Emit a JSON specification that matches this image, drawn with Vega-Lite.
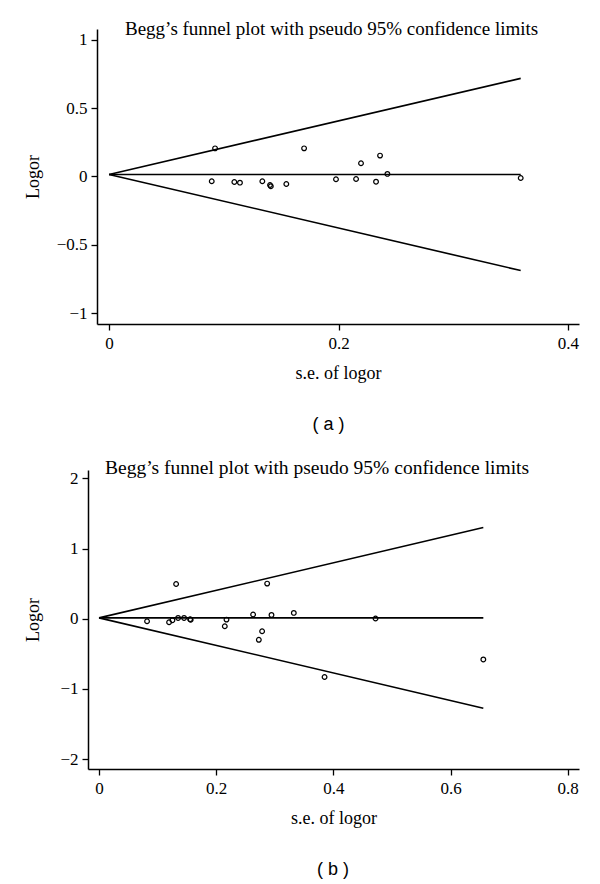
{
  "$schema": "https://vega.github.io/schema/vega-lite/v6.json",
  "padding": {"left": 24, "top": 20, "right": 0, "bottom": 0},
  "background": "white",
  "spacing": 23,
  "config": {
    "view": {"stroke": null},
    "axis": {
      "grid": false,
      "domainColor": "black",
      "domainWidth": 1.5,
      "tickColor": "black",
      "tickWidth": 1.3,
      "tickSize": 6,
      "labelColor": "black",
      "labelFont": "Liberation Serif",
      "labelFontSize": 17,
      "labelPadding": 4,
      "titleColor": "black",
      "titleFont": "Liberation Serif",
      "titleFontSize": 18,
      "titleFontWeight": "normal"
    }
  },
  "vconcat": [
    {
      "title": {"text": "( a )", "orient": "bottom", "anchor": "middle", "dx": 27, "font": "Liberation Sans", "fontSize": 18, "fontWeight": "normal", "color": "black", "offset": 34},
      "vconcat": [
        {
          "width": 482,
          "height": 295,
          "title": {"text": "Begg’s funnel plot with pseudo 95% confidence limits", "anchor": "start", "frame": "group", "dx": 28, "offset": -25, "baseline": "alphabetic", "font": "Liberation Serif", "fontSize": 19, "fontWeight": "normal", "color": "black"},
          "layer": [
            {
              "data": {"values": [
                {"line": "upper", "se": 0, "logor": 0.014},
                {"line": "upper", "se": 0.3588, "logor": 0.717},
                {"line": "lower", "se": 0, "logor": 0.014},
                {"line": "lower", "se": 0.3588, "logor": -0.689},
                {"line": "center", "se": 0, "logor": 0.014},
                {"line": "center", "se": 0.3588, "logor": 0.014}
              ]},
              "mark": {"type": "line", "color": "black", "strokeWidth": 1.6},
              "encoding": {
                "x": {"field": "se", "type": "quantitative", "scale": {"domain": [-0.0105, 0.4096], "nice": false, "zero": false},
                      "axis": {"values": [0, 0.2, 0.4], "format": "~g", "title": "s.e. of logor", "titlePadding": 13, "labelPadding": 5}},
                "y": {"field": "logor", "type": "quantitative", "scale": {"domain": [-1.08, 1.078], "nice": false, "zero": false},
                      "axis": {"values": [-1, -0.5, 0, 0.5, 1], "format": "~g", "title": "Logor", "minExtent": 55, "maxExtent": 55, "titlePadding": 0}},
                "detail": {"field": "line"}
              }
            },
            {
              "data": {"values": [
                {"se": 0.0924, "logor": 0.205},
                {"se": 0.170, "logor": 0.205},
                {"se": 0.2196, "logor": 0.096},
                {"se": 0.2362, "logor": 0.152},
                {"se": 0.2426, "logor": 0.018},
                {"se": 0.3588, "logor": -0.012},
                {"se": 0.0895, "logor": -0.036},
                {"se": 0.1092, "logor": -0.041},
                {"se": 0.1141, "logor": -0.046},
                {"se": 0.1336, "logor": -0.036},
                {"se": 0.1403, "logor": -0.063},
                {"se": 0.141, "logor": -0.072},
                {"se": 0.1545, "logor": -0.056},
                {"se": 0.1978, "logor": -0.021},
                {"se": 0.2153, "logor": -0.019},
                {"se": 0.2327, "logor": -0.039}
              ]},
              "mark": {"type": "point", "shape": "circle", "filled": false, "color": "black", "size": 22, "strokeWidth": 1.2, "opacity": 1},
              "encoding": {
                "x": {"field": "se", "type": "quantitative"},
                "y": {"field": "logor", "type": "quantitative"}
              }
            }
          ]
        }
      ]
    },
    {
      "title": {"text": "( b )", "orient": "bottom", "anchor": "middle", "dx": 27, "font": "Liberation Sans", "fontSize": 18, "fontWeight": "normal", "color": "black", "offset": 34},
      "vconcat": [
        {
          "width": 482,
          "height": 299,
          "title": {"text": "Begg’s funnel plot with pseudo 95% confidence limits", "anchor": "start", "frame": "group", "dx": 8, "offset": -24, "baseline": "alphabetic", "font": "Liberation Serif", "fontSize": 19.5, "fontWeight": "normal", "color": "black"},
          "layer": [
            {
              "data": {"values": [
                {"line": "upper", "se": 0, "logor": 0.012},
                {"line": "upper", "se": 0.656, "logor": 1.298},
                {"line": "lower", "se": 0, "logor": 0.012},
                {"line": "lower", "se": 0.656, "logor": -1.274},
                {"line": "center", "se": 0, "logor": 0.012},
                {"line": "center", "se": 0.656, "logor": 0.012}
              ]},
              "mark": {"type": "line", "color": "black", "strokeWidth": 1.6},
              "encoding": {
                "x": {"field": "se", "type": "quantitative", "scale": {"domain": [-0.0188, 0.8193], "range": [-9, 482], "nice": false, "zero": false},
                      "axis": {"values": [0, 0.2, 0.4, 0.6, 0.8], "format": "~g", "title": "s.e. of logor", "titlePadding": 13, "labelPadding": 5}},
                "y": {"field": "logor", "type": "quantitative", "scale": {"domain": [-2.14, 2.118], "nice": false, "zero": false},
                      "axis": {"values": [-2, -1, 0, 1, 2], "format": "~g", "title": "Logor", "offset": 9, "minExtent": 46, "maxExtent": 46, "titlePadding": 0}},
                "detail": {"field": "line"}
              }
            },
            {
              "data": {"values": [
                {"se": 0.082, "logor": -0.036},
                {"se": 0.1196, "logor": -0.05},
                {"se": 0.1253, "logor": -0.021},
                {"se": 0.1316, "logor": 0.495},
                {"se": 0.135, "logor": 0.011},
                {"se": 0.1452, "logor": 0.011},
                {"se": 0.1555, "logor": -0.007},
                {"se": 0.1565, "logor": -0.015},
                {"se": 0.2147, "logor": -0.107},
                {"se": 0.2176, "logor": -0.012},
                {"se": 0.263, "logor": 0.06},
                {"se": 0.2784, "logor": -0.178},
                {"se": 0.2728, "logor": -0.3},
                {"se": 0.287, "logor": 0.5},
                {"se": 0.2944, "logor": 0.054},
                {"se": 0.3325, "logor": 0.083},
                {"se": 0.385, "logor": -0.83},
                {"se": 0.472, "logor": 0.003},
                {"se": 0.656, "logor": -0.58}
              ]},
              "mark": {"type": "point", "shape": "circle", "filled": false, "color": "black", "size": 22, "strokeWidth": 1.2, "opacity": 1},
              "encoding": {
                "x": {"field": "se", "type": "quantitative"},
                "y": {"field": "logor", "type": "quantitative"}
              }
            }
          ]
        }
      ]
    }
  ]
}
